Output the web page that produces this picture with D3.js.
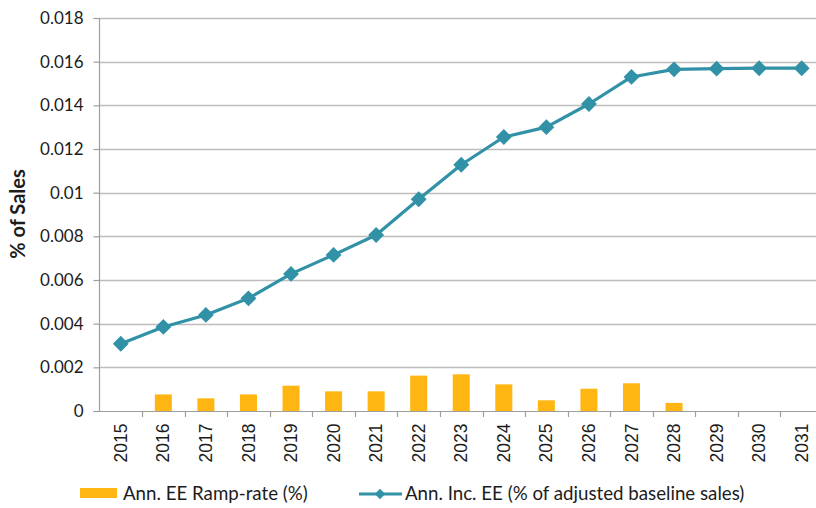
<!DOCTYPE html>
<html>
<head>
<meta charset="utf-8">
<script src="https://cdn.jsdelivr.net/npm/d3@7"></script>
<style>
  html, body { margin: 0; padding: 0; background: #fff; }
  svg { display: block; font-family: Lato, "Open Sans", sans-serif; }
</style>
</head>
<body>
<svg id="chart" width="816" height="508"></svg>
<script>
// Years on the category axis
const years = ["2015","2016","2017","2018","2019","2020","2021","2022","2023",
               "2024","2025","2026","2027","2028","2029","2030","2031"];
// Annual EE ramp-rate (bars)
const rampRate = [0, 0.00076, 0.00058, 0.00076, 0.00116, 0.0009, 0.0009, 0.00162,
                  0.00168, 0.00122, 0.00049, 0.00102, 0.00127, 0.00037, 0, 0, 0];
// Annual incremental EE, % of adjusted baseline sales (line)
const incEE = [0.00308, 0.00385, 0.0044, 0.00516, 0.00628, 0.00715, 0.00806, 0.0097,
               0.01128, 0.01255, 0.0130, 0.01406, 0.0153, 0.01565, 0.01568, 0.0157, 0.0157];
const yTicks = [0, 0.002, 0.004, 0.006, 0.008, 0.01, 0.012, 0.014, 0.016, 0.018];
const seriesNames = ["Ann. EE Ramp-rate (%)", "Ann. Inc. EE (% of adjusted baseline sales)"];
const yTitle = "% of Sales";

const barColor = "#FFB612";
const lineColor = "#3191A7";
const textColor = "#1c1c1c";

const svg = d3.select("#chart");
const plotLeft = 99.5, plotRight = 823, plotTop = 18, plotBottom = 411;

const x = d3.scaleBand().domain(years).range([plotLeft, plotRight]);
const y = d3.scaleLinear().domain([0, 0.018]).range([plotBottom, plotTop]);

// Horizontal gridlines
svg.append("g")
  .selectAll("line")
  .data(yTicks.filter(d => d > 0))
  .join("line")
  .attr("x1", plotLeft).attr("x2", 816)
  .attr("y1", d => Math.round(y(d)) + 0.5).attr("y2", d => Math.round(y(d)) + 0.5)
  .attr("stroke", "#BDBDBD").attr("stroke-width", 1.3);

// Y axis
const yAxis = svg.append("g")
  .attr("transform", `translate(${plotLeft},0)`)
  .call(d3.axisLeft(y).tickValues(yTicks).tickSize(6).tickPadding(10)
        .tickFormat(d => d === 0 ? "0" : String(+d.toFixed(3))));
yAxis.selectAll("line, path").attr("stroke", "#9E9E9E").attr("stroke-width", 1.2);
yAxis.select(".domain").attr("d", `M-6,${plotTop + 0.5}H0V${plotBottom + 0.5}H-6`);
yAxis.selectAll("text").attr("font-size", 17).attr("fill", textColor)
  .attr("font-family", "Lato, sans-serif");

// X axis
const xAxis = svg.append("g")
  .attr("transform", `translate(0,${plotBottom + 0.5})`)
  .call(d3.axisBottom(x).tickSize(0).tickPadding(0));
xAxis.select(".domain").attr("stroke", "#9E9E9E").attr("stroke-width", 1.2)
  .attr("d", `M${plotLeft},0H816`);
// Category boundary ticks
svg.append("g")
  .selectAll("line")
  .data(years.slice(1))
  .join("line")
  .attr("x1", d => Math.round(x(d)) + 0.5).attr("x2", d => Math.round(x(d)) + 0.5)
  .attr("y1", plotBottom).attr("y2", plotBottom + 6)
  .attr("stroke", "#9E9E9E").attr("stroke-width", 1.2);
xAxis.selectAll("text")
  .attr("font-size", 17.5).attr("fill", textColor)
  .attr("transform", "rotate(-90)")
  .attr("text-anchor", "end")
  .attr("x", -12).attr("y", 0).attr("dy", "0.35em");

// Bars
svg.append("g")
  .selectAll("rect")
  .data(years)
  .join("rect")
  .attr("x", d => x(d) + x.bandwidth() * 0.3)
  .attr("width", x.bandwidth() * 0.4)
  .attr("y", (d, i) => y(rampRate[i]))
  .attr("height", (d, i) => y(0) - y(rampRate[i]))
  .attr("fill", barColor);

// Line with diamond markers
const cx = d => x(d) + x.bandwidth() / 2;
svg.append("path")
  .datum(years)
  .attr("fill", "none").attr("stroke", lineColor).attr("stroke-width", 3.2)
  .attr("stroke-linejoin", "round")
  .attr("d", d3.line().x(cx).y((d, i) => y(incEE[i])));
const diamond = d3.symbol().type(d3.symbolDiamond2).size(160);
svg.append("g")
  .selectAll("path")
  .data(years)
  .join("path")
  .attr("transform", (d, i) => `translate(${cx(d)},${y(incEE[i])})`)
  .attr("d", diamond)
  .attr("fill", lineColor);

// Y axis title
svg.append("text")
  .attr("transform", "translate(25,214) rotate(-90)")
  .attr("text-anchor", "middle")
  .attr("font-size", 20).attr("font-weight", "bold").attr("fill", textColor)
  .text(yTitle);

// Legend
const lg = svg.append("g");
lg.append("rect").attr("x", 80).attr("y", 488).attr("width", 37).attr("height", 10).attr("fill", barColor);
lg.append("text").attr("x", 123).attr("y", 500).attr("font-size", 18.7).attr("fill", textColor)
  .text(seriesNames[0]);
lg.append("line").attr("x1", 359).attr("x2", 402).attr("y1", 494).attr("y2", 494)
  .attr("stroke", lineColor).attr("stroke-width", 3.2);
lg.append("path").attr("transform", "translate(380,494)")
  .attr("d", d3.symbol().type(d3.symbolDiamond2).size(70)).attr("fill", lineColor);
lg.append("text").attr("x", 405).attr("y", 500).attr("font-size", 18.7).attr("fill", textColor)
  .text(seriesNames[1]);
</script>
</body>
</html>
